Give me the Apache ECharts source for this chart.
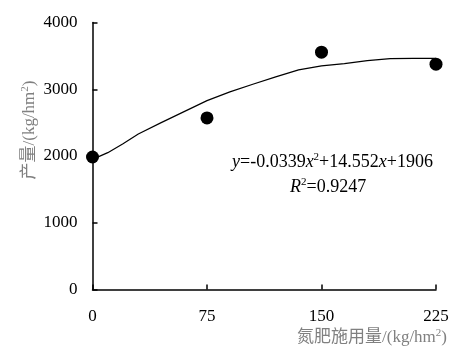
<!DOCTYPE html>
<html>
<head>
<meta charset="utf-8">
<script src="https://cdn.jsdelivr.net/npm/echarts@6/dist/echarts.min.js"></script>
<style>
  html, body { margin: 0; padding: 0; background: #fff; }
  #chart { width: 469px; height: 353px; }
</style>
</head>
<body>
<div id="chart"></div>
<script>
// 实测数据点 (施氮量, 产量)
var nRates = [0, 75, 150, 225];
var yields = [1985, 2570, 3555, 3375];

// 趋势线
var fitX = [0, 10, 20, 30, 45, 60, 75, 90, 105, 120, 135, 150, 165, 180, 195, 210, 225];
var fitY = [1950, 2050, 2185, 2330, 2500, 2665, 2830, 2960, 3075, 3185, 3290, 3350, 3385, 3430, 3460, 3462, 3462];

var xTicks = [0, 75, 150, 225];
var yTicks = [0, 1000, 2000, 3000, 4000];

var serif = '"Liberation Serif", "Times New Roman", "Noto Sans CJK SC", serif';

var scatterData = nRates.map(function (x, i) { return [x, yields[i]]; });
var fitData = fitX.map(function (x, i) { return [x, fitY[i]]; });

var supStyle = { fontSize: 11, lineHeight: 10, fontFamily: serif, verticalAlign: 'top' };
function plain(v) { return String(v); }

var chart = echarts.init(document.getElementById('chart'));
chart.setOption({
    animation: false,
    backgroundColor: '#fff',
    grid: {
        left: 92.5,
        right: 33,
        top: 22.5,
        bottom: 63.5
    },
    xAxis: {
        type: 'value',
        min: xTicks[0],
        max: xTicks[xTicks.length - 1],
        interval: 75,
        splitLine: { show: false },
        axisLine: { lineStyle: { color: '#000', width: 1.5 } },
        axisTick: { inside: true, length: 5, lineStyle: { color: '#000', width: 1.5 } },
        axisLabel: { color: '#000', fontSize: 17, fontFamily: serif, margin: 19, formatter: plain }
    },
    yAxis: {
        type: 'value',
        min: yTicks[0],
        max: yTicks[yTicks.length - 1],
        interval: 1000,
        splitLine: { show: false },
        axisLine: { show: true, lineStyle: { color: '#000', width: 1.5 } },
        axisTick: { show: true, inside: true, length: 5, lineStyle: { color: '#000', width: 1.5 } },
        axisLabel: { color: '#000', fontSize: 17, fontFamily: serif, margin: 15, formatter: plain }
    },
    series: [{
        type: 'line',
        data: fitData,
        smooth: false,
        showSymbol: false,
        lineStyle: { color: '#000', width: 1.2 },
        z: 2
    }, {
        type: 'scatter',
        data: scatterData,
        symbol: 'circle',
        symbolSize: 13,
        itemStyle: { color: '#000', opacity: 1 },
        z: 3
    }],
    graphic: [{
        type: 'text',
        left: 232,
        top: 152,
        style: {
            text: '{i|y}=-0.0339{i|x}{sup|2}+14.552{i|x}+1906',
            fill: '#000',
            font: '18px ' + serif,
            lineHeight: 20,
            rich: {
                i: { fontStyle: 'italic', fontSize: 18, lineHeight: 20, fontFamily: serif },
                sup: supStyle
            }
        }
    }, {
        type: 'text',
        left: 290,
        top: 177,
        style: {
            text: '{i|R}{sup|2}=0.9247',
            fill: '#000',
            font: '18px ' + serif,
            lineHeight: 20,
            rich: {
                i: { fontStyle: 'italic', fontSize: 18, lineHeight: 20, fontFamily: serif },
                sup: supStyle
            }
        }
    }, {
        // 纵轴标题
        type: 'text',
        x: 30,
        y: 130,
        rotation: Math.PI / 2,
        style: {
            text: '产量/(kg/hm{sup|2})',
            fill: '#808080',
            font: '17px ' + serif,
            lineHeight: 20,
            align: 'center',
            verticalAlign: 'middle',
            rich: {
                sup: echarts.util.extend({ fill: '#808080' }, supStyle)
            }
        }
    }, {
        // 横轴标题
        type: 'text',
        right: 22,
        top: 328,
        style: {
            text: '氮肥施用量/(kg/hm{sup|2})',
            fill: '#808080',
            font: '17px ' + serif,
            lineHeight: 20,
            rich: {
                sup: echarts.util.extend({ fill: '#808080' }, supStyle)
            }
        }
    }]
});
</script>
</body>
</html>
